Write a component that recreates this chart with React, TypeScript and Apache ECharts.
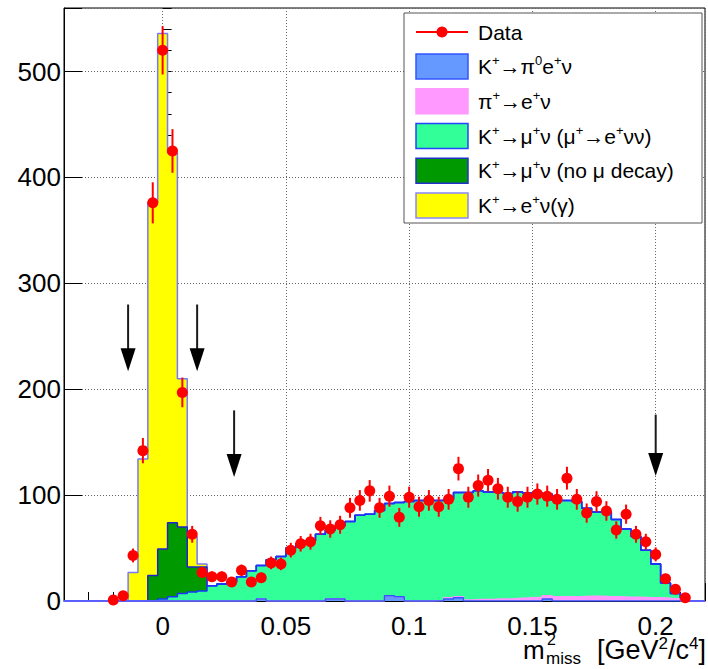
import React, { useEffect, useRef } from 'react';
import * as echarts from 'echarts';

// ---- axis / binning ----
const BIN_WIDTH = 0.004;
const FIRST_BIN = -6;
const LAST_BIN = 54;
const X_MIN = -0.04;
const X_MAX = 0.22;
const Y_MAX = 560;

// ---- data (events per bin), bin index k -> centre k*0.004 ----
const dataStart = -5;
const dataValues = [
  1, 5, 43, 142, 376, 520, 425, 197, 63, 27,
  23, 23, 18, 29, 18,
  22, 36, 35, 48, 54,
  56, 71, 68, 72, 88,
  95, 104, 88, 99, 79,
  98, 89, 95, 89, 96,
  125, 98, 109, 114, 106,
  98, 94, 98, 101, 99,
  96, 116, 96, 83, 94,
  85, 67, 82, 63, 56,
  44, 21, 11, 3,
];

// ---- MC components ----
const ke3Bins = [10, 17, 18, 23, 24, 29, 30, 39];
const ke3Values = [2, 2, 2, 5, 4, 2, 3, 2];

const pienuStart = 28;
const pienuValues = [
  0.5, 1, 1, 1, 1.5, 1.5, 2, 2, 2.5, 3, 3.5, 3, 4, 4, 4, 4.5, 4.5, 4, 4, 3.5, 3.5, 3, 3, 2.5, 2,
];

const muDecayStart = 0;
const muDecayValues = [
  2, 4, 7, 8.5, 9.5,
  14.5, 16, 18, 23, 28.5,
  31.5, 39, 42, 50, 54,
  57, 63, 65, 69, 75,
  81, 82, 85.5, 87, 89,
  94, 95, 95, 94.5, 93,
  98.5, 101.5, 102.5, 101.5, 100.5,
  99.5, 100.5, 99, 98.5, 96,
  91, 91, 90, 83, 79.5,
  80, 73, 64.5, 57.5, 45,
  32, 14.5, 5,
];

const noDecayStart = -1;
const noDecayValues = [24, 47, 70, 63, 23.5, 22.5];

const ke2Start = -3;
const ke2Values = [27, 134, 352, 487, 349, 140, 29, 3];

// ---- selection arrows ----
const arrowX = [-0.014, 0.014, 0.029, 0.2];
const arrowTop = [280, 280, 180, 176];
const arrowTip = [217, 217, 117, 118];

// ---- legend ----
const legendLabels = [
  '{n|K}{s|+}{n|→π}{s|0}{n|e}{s|+}{n|ν}',
  '{n|π}{s|+}{n|→e}{s|+}{n|ν}',
  '{n|K}{s|+}{n|→μ}{s|+}{n|ν (μ}{s|+}{n|→e}{s|+}{n|νν)}',
  '{n|K}{s|+}{n|→μ}{s|+}{n|ν (no μ decay)}',
  '{n|K}{s|+}{n|→e}{s|+}{n|ν(γ)}',
];
const legendFill = ['#6699ff', '#ff99ff', '#33ff99', '#009900', '#ffff00'];
const legendStroke = ['#3355ff', '#ff99ff', '#2244ff', '#2233cc', '#8888ff'];

const FONT = '"Liberation Sans", Arial, Helvetica, sans-serif';
const NB = LAST_BIN - FIRST_BIN + 1;

function toBins(start: number, values: number[]): number[] {
  const out = new Array(NB).fill(0);
  values.forEach((v, i) => {
    const idx = start + i - FIRST_BIN;
    if (idx >= 0 && idx < NB) out[idx] = v;
  });
  return out;
}
function sparseBins(bins: number[], values: number[]): number[] {
  const out = new Array(NB).fill(0);
  bins.forEach((b, i) => {
    out[b - FIRST_BIN] = values[i];
  });
  return out;
}
function addArr(a: number[], b: number[]) {
  return a.map((v, i) => v + b[i]);
}
function stepData(vals: number[]) {
  const pts: number[][] = [[X_MIN, 0]];
  for (let i = 0; i < NB; i++) {
    const k = FIRST_BIN + i;
    pts.push([(k - 0.5) * BIN_WIDTH, vals[i]]);
  }
  pts.push([(LAST_BIN + 0.5) * BIN_WIDTH, vals[NB - 1]]);
  pts.push([X_MAX, 0]);
  return pts;
}

export default function App() {
  const ref = useRef<HTMLDivElement>(null);
  useEffect(() => {
    if (!ref.current) return;
    const chart = echarts.init(ref.current, undefined, { renderer: 'svg' });

    const ke3 = sparseBins(ke3Bins, ke3Values);
    const c1 = ke3;
    const c2 = addArr(c1, toBins(pienuStart, pienuValues));
    const c3 = addArr(c2, toBins(muDecayStart, muDecayValues));
    const c4 = addArr(c3, toBins(noDecayStart, noDecayValues));
    const c5 = addArr(c4, toBins(ke2Start, ke2Values));

    const stacks = [
      { vals: c5, fill: '#ffff00', stroke: '#7777ff' },
      { vals: c4, fill: '#009900', stroke: '#2222cc' },
      { vals: c3, fill: '#33ff99', stroke: '#1a33ff' },
      { vals: c2, fill: '#ff99ff', stroke: '#ff99ff' },
      { vals: c1, fill: '#6699ff', stroke: '#3355ff' },
    ];

    const pts = dataValues.map((v, i) => [(dataStart + i) * BIN_WIDTH, v]);
    const errs = dataValues.map((v, i) => [
      (dataStart + i) * BIN_WIDTH,
      v - Math.sqrt(v),
      v + Math.sqrt(v),
    ]);
    const arrows = arrowX.map((x, i) => [x, arrowTop[i], arrowTip[i]]);

    const series: any[] = stacks.map((s) => ({
      type: 'line',
      step: 'end',
      data: stepData(s.vals),
      symbol: 'none',
      xAxisIndex: 0,
      yAxisIndex: 0,
      z: 2,
      lineStyle: { color: s.stroke, width: 1.5 },
      areaStyle: { color: s.fill, opacity: 1 },
      silent: true,
    }));

    series.push({
      type: 'custom',
      xAxisIndex: 0,
      yAxisIndex: 0,
      z: 10,
      data: errs,
      renderItem: (params: any, api: any) => {
        const a = api.coord([api.value(0), api.value(1)]);
        const b = api.coord([api.value(0), api.value(2)]);
        return {
          type: 'line',
          shape: { x1: a[0], y1: a[1], x2: b[0], y2: b[1] },
          style: { stroke: '#ff0000', lineWidth: 2 },
        };
      },
      silent: true,
    });
    series.push({
      type: 'scatter',
      xAxisIndex: 0,
      yAxisIndex: 0,
      z: 11,
      data: pts,
      symbol: 'circle',
      symbolSize: 11,
      itemStyle: { color: '#ff0000', opacity: 1 },
      silent: true,
    });
    series.push({
      type: 'custom',
      xAxisIndex: 0,
      yAxisIndex: 0,
      z: 12,
      data: arrows,
      renderItem: (params: any, api: any) => {
        const x = api.value(0);
        const top = api.coord([x, api.value(1)]);
        const tip = api.coord([x, api.value(2)]);
        const headH = 23;
        const halfW = 7.5;
        return {
          type: 'group',
          children: [
            {
              type: 'line',
              shape: { x1: top[0], y1: top[1], x2: tip[0], y2: tip[1] - headH + 2 },
              style: { stroke: '#1a1a1a', lineWidth: 2 },
            },
            {
              type: 'polygon',
              shape: {
                points: [
                  [tip[0] - halfW, tip[1] - headH],
                  [tip[0] + halfW, tip[1] - headH],
                  [tip[0], tip[1]],
                ],
              },
              style: { fill: '#000000' },
            },
          ],
        };
      },
      silent: true,
    });

    const legendRowY = [66.5, 101.2, 136, 170.7, 205.4];
    const graphic: any[] = [
      {
        type: 'rect',
        shape: { x: 404, y: 13, width: 298, height: 210 },
        style: { fill: '#ffffff', stroke: '#555555', lineWidth: 1 },
        z: 100,
      },
      {
        type: 'line',
        shape: { x1: 416, y1: 32, x2: 468, y2: 32 },
        style: { stroke: '#ff0000', lineWidth: 2 },
        z: 101,
      },
      {
        type: 'circle',
        shape: { cx: 442, cy: 32, r: 5.5 },
        style: { fill: '#ff0000' },
        z: 101,
      },
      {
        type: 'text',
        x: 478,
        y: 32,
        style: {
          text: 'Data',
          fontSize: 21,
          fontFamily: FONT,
          fill: '#000',
          align: 'left',
          verticalAlign: 'middle',
        },
        z: 101,
      },
    ];
    legendLabels.forEach((lab, i) => {
      const cy = legendRowY[i];
      graphic.push({
        type: 'rect',
        shape: { x: 416, y: cy - 12.5, width: 52, height: 25 },
        style: { fill: legendFill[i], stroke: legendStroke[i], lineWidth: 1.5 },
        z: 101,
      });
      graphic.push({
        type: 'text',
        x: 478,
        y: cy,
        style: {
          text: lab,
          fontFamily: FONT,
          fill: '#000',
          align: 'left',
          verticalAlign: 'middle',
          rich: {
            n: { fontSize: 21, lineHeight: 25, fontFamily: FONT, fill: '#000' },
            s: { fontSize: 13, lineHeight: 13, verticalAlign: 'top', fontFamily: FONT, fill: '#000' },
          },
        },
        z: 101,
      });
    });
    // x-axis title
    graphic.push(
      {
        type: 'text',
        x: 523,
        y: 650,
        style: { text: 'm', fontSize: 26, fontFamily: FONT, fill: '#000', align: 'left', verticalAlign: 'middle' },
        z: 101,
      },
      {
        type: 'text',
        x: 547,
        y: 639,
        style: { text: '2', fontSize: 16, fontFamily: FONT, fill: '#000', align: 'left', verticalAlign: 'middle' },
        z: 101,
      },
      {
        type: 'text',
        x: 546,
        y: 658,
        style: { text: 'miss', fontSize: 17, fontFamily: FONT, fill: '#000', align: 'left', verticalAlign: 'middle' },
        z: 101,
      },
      {
        type: 'text',
        x: 706,
        y: 650,
        style: {
          text: '{n|[GeV}{s|2}{n|/c}{s|4}{n|]}',
          fontFamily: FONT,
          fill: '#000',
          align: 'right',
          verticalAlign: 'middle',
          rich: {
            n: { fontSize: 27, lineHeight: 30, fontFamily: FONT, fill: '#000' },
            s: { fontSize: 17, lineHeight: 17, verticalAlign: 'top', fontFamily: FONT, fill: '#000' },
          },
        },
        z: 101,
      }
    );

    const gridLine = { show: true, lineStyle: { color: '#666', type: [1, 2], width: 1 } };

    chart.setOption({
      animation: false,
      backgroundColor: '#ffffff',
      grid: {
        left: 64,
        right: -1,
        top: 8,
        bottom: 68,
        show: true,
        borderColor: '#000',
        borderWidth: 1,
        backgroundColor: 'transparent',
      },
      xAxis: [
        {
          type: 'value',
          min: X_MIN,
          max: X_MAX,
          splitNumber: 5,
          axisLine: { show: true, onZero: false, lineStyle: { color: '#000', width: 1 } },
          axisTick: { show: true, inside: true, length: 18, lineStyle: { color: '#000', width: 1 } },
          axisLabel: {
            fontSize: 26,
            fontFamily: FONT,
            color: '#000',
            margin: 12,
            formatter: (v: number) => {
              const r = Math.round(v / 0.05);
              if (Math.abs(v - r * 0.05) > 1e-6) return '';
              return (r * 0.05).toFixed(2).replace(/0+$/, '').replace(/\.$/, '');
            },
          },
          splitLine: gridLine,
        },
        {
          type: 'value',
          min: X_MIN,
          max: X_MAX,
          interval: 0.01,
          position: 'bottom',
          offset: 0,
          axisLine: { show: false },
          axisTick: { show: true, inside: true, length: 9, lineStyle: { color: '#000', width: 1 } },
          axisLabel: { show: false },
          splitLine: { show: false },
        },
      ],
      yAxis: [
        {
          type: 'value',
          min: 0,
          max: Y_MAX,
          interval: 100,
          position: 'left',
          axisLine: { show: true, onZero: false, lineStyle: { color: '#000', width: 1 } },
          axisTick: { show: true, inside: true, length: 18, lineStyle: { color: '#000', width: 1 } },
          axisLabel: {
            fontSize: 26,
            fontFamily: FONT,
            color: '#000',
            margin: 3,
            formatter: (v: number) => (Math.abs(v % 100) < 1e-6 ? String(v) : ''),
          },
          splitLine: gridLine,
        },
        {
          type: 'value',
          min: 0,
          max: Y_MAX,
          interval: 20,
          position: 'left',
          offset: 0,
          axisLine: { show: false },
          axisTick: { show: true, inside: true, length: 9, lineStyle: { color: '#000', width: 1 } },
          axisLabel: { show: false },
          splitLine: { show: false },
        },
      ],
      series,
      graphic,
    });
    return () => chart.dispose();
  }, []);
  return (
    <div
      ref={ref}
      style={{ position: 'absolute', left: 0, top: 0, width: 708, height: 669 }}
    />
  );
}
